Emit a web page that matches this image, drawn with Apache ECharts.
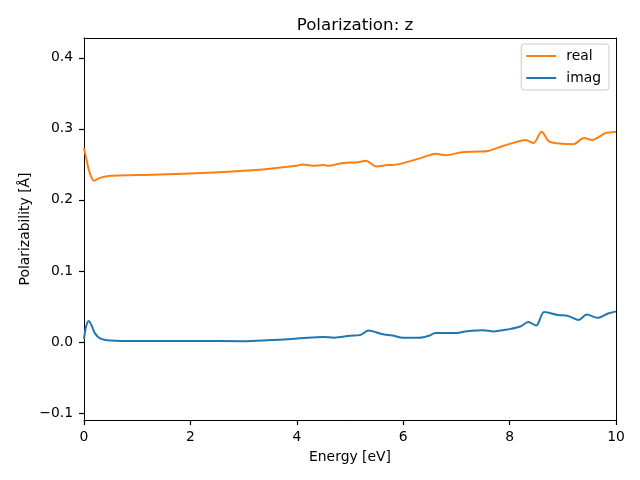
<!DOCTYPE html>
<html>
<head>
<meta charset="utf-8">
<script src="https://cdn.jsdelivr.net/npm/echarts@6/dist/echarts.min.js"></script>
<style>html,body{margin:0;padding:0;background:#fff}#c{width:640px;height:480px}</style>
</head>
<body>
<div id="c"></div>
<script>
var energyReal = [0, 0.05, 0.1, 0.19, 0.3, 0.5, 1, 2, 3, 3.5, 4, 4.1, 4.3, 4.5, 4.6, 4.8, 5, 5.15, 5.3, 5.5, 5.7, 5.9, 6.2, 6.5, 6.6, 6.8, 7.1, 7.4, 7.6, 7.8, 8.1, 8.3, 8.45, 8.6, 8.75, 9.0, 9.2, 9.4, 9.55, 9.8, 9.9, 10];
var valuesReal = [0.273, 0.256, 0.240, 0.227, 0.231, 0.234, 0.235, 0.237, 0.241, 0.244, 0.248, 0.250, 0.248, 0.249, 0.248, 0.251, 0.2525, 0.253, 0.255, 0.247, 0.249, 0.250, 0.256, 0.263, 0.265, 0.263, 0.267, 0.268, 0.269, 0.274, 0.281, 0.2845, 0.280, 0.296, 0.282, 0.279, 0.2785, 0.287, 0.2845, 0.294, 0.295, 0.296];
var energyImag = [0, 0.04, 0.09, 0.15, 0.2, 0.3, 0.5, 1, 2, 3, 3.5, 3.9, 4.2, 4.5, 4.7, 5, 5.2, 5.35, 5.6, 5.8, 6.0, 6.3, 6.5, 6.6, 7.0, 7.2, 7.5, 7.7, 8.0, 8.2, 8.35, 8.5, 8.65, 8.9, 9.1, 9.3, 9.45, 9.65, 9.85, 10];
var valuesImag = [0.004, 0.022, 0.0296, 0.022, 0.0127, 0.005, 0.002, 0.0012, 0.0012, 0.001, 0.0025, 0.004, 0.006, 0.007, 0.006, 0.0087, 0.0099, 0.016, 0.011, 0.009, 0.0058, 0.0058, 0.009, 0.0127, 0.0127, 0.015, 0.0165, 0.0148, 0.018, 0.0216, 0.028, 0.023, 0.042, 0.038, 0.0366, 0.031, 0.0385, 0.034, 0.040, 0.043];
var yTicks = [-0.1, 0.0, 0.1, 0.2, 0.3, 0.4];
var xTicks = [0, 2, 4, 6, 8, 10];

function pairs(xs, ys) { return xs.map(function (x, i) { return [x, ys[i]]; }); }
var font = 'DejaVu Sans';
var frameAxis = {
  axisLine: {show: true, onZero: false, lineStyle: {color: '#000', width: 1}},
  axisTick: {show: false}, axisLabel: {show: false}, splitLine: {show: false}
};
var chart = echarts.init(document.getElementById('c'), null, {renderer: 'canvas'});
chart.setOption({
  animation: false,
  backgroundColor: '#fff',
  title: {
    text: 'Polarization: z', left: 350, top: 12, textAlign: 'center',
    textStyle: {fontFamily: font, fontSize: 16.7, fontWeight: 'normal', color: '#000'}
  },
  legend: {
    right: 31, top: 44, orient: 'vertical',
    padding: [5, 8, 5, 5], itemGap: 8, itemWidth: 30, itemHeight: 2,
    borderColor: '#cccccc', borderWidth: 1, borderRadius: 3,
    backgroundColor: 'rgba(255,255,255,0.8)',
    icon: 'rect',
    textStyle: {fontFamily: font, fontSize: 13.9, color: '#000', padding: [0, 0, 0, 5]},
    data: ['real', 'imag']
  },
  grid: {left: 84, right: 24, top: 38, bottom: 60, show: false},
  xAxis: [{
    type: 'value', min: 0, max: 10, interval: 2, position: 'bottom',
    name: 'Energy [eV]', nameLocation: 'middle', nameGap: 30, nameMoveOverlap: false,
    nameTextStyle: {fontFamily: font, fontSize: 13.9, color: '#000'},
    axisLine: {show: true, onZero: false, lineStyle: {color: '#000', width: 1}},
    axisTick: {show: true, inside: false, length: 5, lineStyle: {color: '#000', width: 1.2}},
    axisLabel: {fontFamily: font, fontSize: 13.9, color: '#000', margin: 10,
      formatter: function (v) { return String(v); }},
    splitLine: {show: false}
  }, Object.assign({type: 'value', min: 0, max: 10, position: 'top'}, frameAxis)],
  yAxis: [{
    type: 'value', min: -0.11, max: 0.428, position: 'left',
    name: 'Polarizability [Å]', nameLocation: 'middle', nameGap: 52, nameRotate: 90, nameMoveOverlap: false,
    nameTextStyle: {fontFamily: font, fontSize: 13.9, color: '#000'},
    axisLine: {show: true, onZero: false, lineStyle: {color: '#000', width: 1}},
    axisTick: {show: true, inside: false, length: 5, lineStyle: {color: '#000', width: 1.2}, customValues: yTicks},
    axisLabel: {fontFamily: font, fontSize: 13.9, color: '#000', margin: 11, customValues: yTicks,
      formatter: function (v) { return v.toFixed(1).replace('-', '\u2212'); }},
    splitLine: {show: false}
  }, Object.assign({type: 'value', min: -0.11, max: 0.428, position: 'right'}, frameAxis)],
  series: [
    {name: 'real', type: 'line', data: pairs(energyReal, valuesReal), smooth: 0.3, showSymbol: false, symbol: 'none',
      lineStyle: {color: '#ff7f0e', width: 2}, itemStyle: {color: '#ff7f0e'}},
    {name: 'imag', type: 'line', data: pairs(energyImag, valuesImag), smooth: 0.3, showSymbol: false, symbol: 'none',
      lineStyle: {color: '#1f77b4', width: 2}, itemStyle: {color: '#1f77b4'}}
  ]
});
</script>
</body>
</html>
